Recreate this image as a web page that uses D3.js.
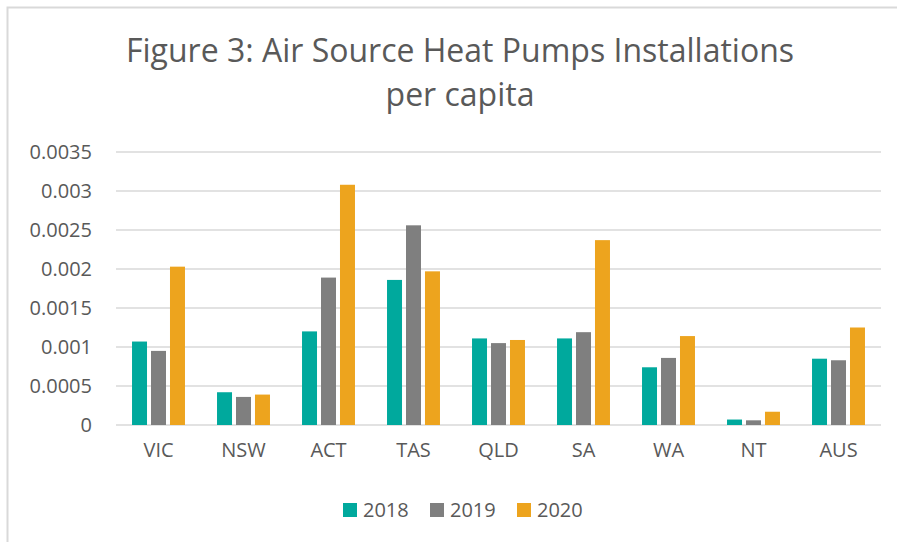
<!DOCTYPE html>
<html>
<head>
<meta charset="utf-8">
<script src="https://cdn.jsdelivr.net/npm/d3@7"></script>
<style>
  body { margin: 0; background: #fff; }
  text { font-family: "Open Sans", sans-serif; }
</style>
</head>
<body>
<div class="chart"></div>
<script>
const states = ['VIC', 'NSW', 'ACT', 'TAS', 'QLD', 'SA', 'WA', 'NT', 'AUS'];
const years = ['2018', '2019', '2020'];
const v2018 = [0.00107, 0.00042, 0.00120, 0.00186, 0.00111, 0.00111, 0.00074, 0.00007, 0.00085];
const v2019 = [0.00095, 0.00036, 0.00189, 0.00256, 0.00105, 0.00119, 0.00086, 0.00006, 0.00083];
const v2020 = [0.00203, 0.00039, 0.00308, 0.00197, 0.00109, 0.00237, 0.00114, 0.00017, 0.00125];
const yTicks = [0, 0.0005, 0.001, 0.0015, 0.002, 0.0025, 0.003, 0.0035];
const colors = ['#00a99d', '#7f7f7f', '#eda41e'];

const series = [v2018, v2019, v2020];
const rows = states.map((s, i) => ({ state: s, vals: years.map((y, j) => ({ year: y, value: series[j][i] })) }));

const width = 897;
const height = 542;
const plotLeft = 116, plotRight = 881, plotTop = 152, plotBottom = 425;

const svg = d3.select('.chart')
  .append('svg')
  .attr('width', width)
  .attr('height', height);

// frame
svg.append('path')
  .attr('d', `M7.5,${height} V7.5 H${width}`)
  .attr('fill', 'none')
  .attr('stroke', '#d9d9d9')
  .attr('stroke-width', 2);

// title
const title = svg.append('text')
  .attr('text-anchor', 'middle')
  .attr('fill', '#595959')
  .attr('font-size', '32px');
title.append('tspan').attr('x', 460).attr('y', 62).text('Figure 3: Air Source Heat Pumps Installations');
title.append('tspan').attr('x', 460).attr('y', 106).text('per capita');

const x0 = d3.scaleBand()
  .domain(states)
  .range([plotLeft, plotRight])
  .paddingInner(0.377)
  .paddingOuter(0.1885);

const x1 = d3.scaleBand()
  .domain(years)
  .range([0, x0.bandwidth()])
  .paddingInner(0.21);

const y = d3.scaleLinear()
  .domain([0, 0.0035])
  .range([plotBottom, plotTop]);

const color = d3.scaleOrdinal().domain(years).range(colors);

// gridlines
svg.append('g')
  .selectAll('line')
  .data(yTicks)
  .enter()
  .append('line')
  .attr('x1', plotLeft)
  .attr('x2', plotRight)
  .attr('y1', d => y(d))
  .attr('y2', d => y(d))
  .attr('stroke', '#d9d9d9')
  .attr('stroke-width', 1.5);

// y axis
const yAxis = svg.append('g')
  .attr('transform', `translate(${plotLeft},0)`)
  .call(d3.axisLeft(y).tickValues(yTicks).tickFormat(d => String(+d.toFixed(4))).tickSize(0).tickPadding(24));
yAxis.select('.domain').remove();
yAxis.selectAll('text')
  .attr('font-family', '"Open Sans", sans-serif')
  .attr('font-size', '20px')
  .attr('fill', '#595959');

// x axis
const xAxis = svg.append('g')
  .attr('transform', `translate(0,${plotBottom})`)
  .call(d3.axisBottom(x0).tickSize(0).tickPadding(18));
xAxis.select('.domain').remove();
xAxis.selectAll('text')
  .attr('font-family', '"Open Sans", sans-serif')
  .attr('font-size', '20px')
  .attr('fill', '#595959');

// bars
svg.append('g')
  .selectAll('g')
  .data(rows)
  .enter()
  .append('g')
  .attr('transform', d => `translate(${x0(d.state)},0)`)
  .selectAll('rect')
  .data(d => d.vals)
  .enter()
  .append('rect')
  .attr('x', d => x1(d.year))
  .attr('y', d => y(d.value))
  .attr('width', x1.bandwidth())
  .attr('height', d => y(0) - y(d.value))
  .attr('fill', d => color(d.year));

// legend
const legendX = [343, 430, 517];
const legend = svg.selectAll('.legend')
  .data(years)
  .enter().append('g')
  .attr('class', 'legend')
  .attr('transform', (d, i) => `translate(${legendX[i]},503)`);

legend.append('rect')
  .attr('width', 14)
  .attr('height', 14)
  .attr('fill', d => color(d));

legend.append('text')
  .attr('x', 20)
  .attr('y', 7)
  .attr('dy', '.36em')
  .attr('font-size', '20px')
  .attr('fill', '#595959')
  .text(d => d);
</script>
</body>
</html>
